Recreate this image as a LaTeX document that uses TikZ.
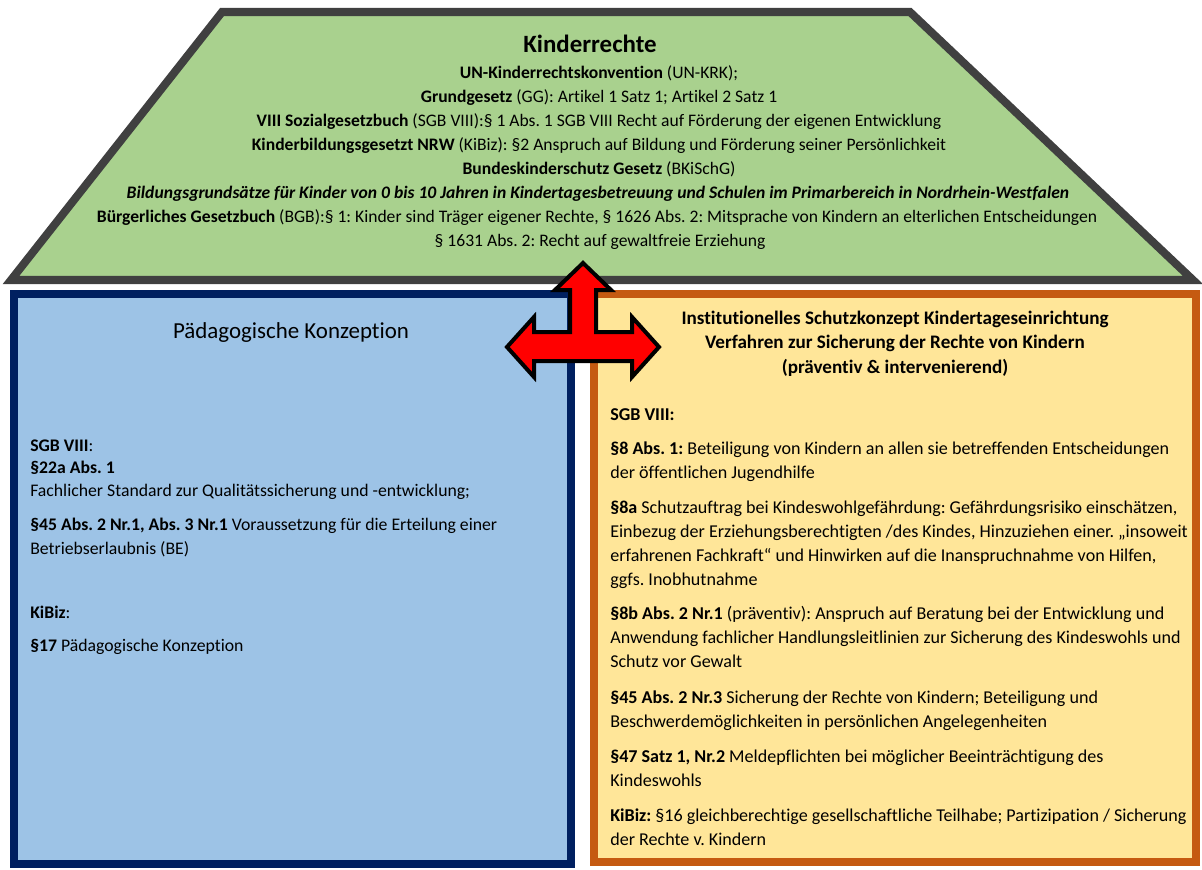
\documentclass[tikz,border=0pt]{standalone}
\usepackage{fontspec}
\setmainfont{Carlito}[Ligatures=NoCommon]
\usetikzlibrary{positioning}
\definecolor{roofbg}{HTML}{A9D18E}
\definecolor{roofborder}{HTML}{404040}
\definecolor{konzbg}{HTML}{9DC3E6}
\definecolor{konzborder}{HTML}{002060}
\definecolor{schutzbg}{HTML}{FFE699}
\definecolor{schutzborder}{HTML}{C55A11}
\definecolor{arrowred}{HTML}{FF0000}
\frenchspacing

\begin{document}
\begin{tikzpicture}[
    x=0.025cm, y=-0.025cm,
    every node/.style={font=\fontsize{12.6}{17}\selectfont, inner sep=0pt},
    box/.style={draw, rectangle, line width=5.7pt},
    cline/.style={anchor=base, font=\fontsize{12.5}{17}\selectfont},
    lline/.style={anchor=base west},
    rline/.style={anchor=base west, font=\fontsize{12.85}{17}\selectfont},
    headline/.style={anchor=base, font=\fontsize{13.6}{17}\selectfont\bfseries},
]

\useasboundingbox (0,0) rectangle (1202,869);

% Roof: Kinderrechte
\draw[fill=roofbg, draw=roofborder, line width=5.7pt, miter limit=20]
    (222,12) -- (910,12) -- (1193,280) -- (11,280) -- cycle;

\node[anchor=base, font=\fontsize{17.7}{20}\selectfont\bfseries] (rechte) at (590,52) {Kinderrechte};
\node[cline] (rechte1) at (599,78) {\textbf{UN-Kinderrechtskonvention} (UN-KRK);};
\node[cline] (rechte2) at (599,102) {\textbf{Grundgesetz} (GG): Artikel 1 Satz 1; Artikel 2 Satz 1};
\node[cline] (rechte3) at (599,126) {\textbf{VIII Sozialgesetzbuch} (SGB VIII):§ 1 Abs. 1 SGB VIII Recht auf Förderung der eigenen Entwicklung};
\node[cline] (rechte4) at (599,150) {\textbf{Kinderbildungsgesetzt NRW} (KiBiz): §2 Anspruch auf Bildung und Förderung seiner Persönlichkeit};
\node[cline] (rechte5) at (599,174) {\textbf{Bundeskinderschutz Gesetz} (BKiSchG)};
\node[cline] (rechte6) at (598,198) {\textbf{\textit{Bildungsgrundsätze für Kinder von 0 bis 10 Jahren in Kindertagesbetreuung und Schulen im Primarbereich in Nordrhein-Westfalen}}};
\node[cline] (rechte7) at (597,222) {\textbf{Bürgerliches Gesetzbuch} (BGB):§ 1: Kinder sind Träger eigener Rechte, § 1626 Abs. 2: Mitsprache von Kindern an elterlichen Entscheidungen};
\node[cline] (rechte8) at (600,246) {§ 1631 Abs. 2: Recht auf gewaltfreie Erziehung};

% Left box: Paedagogische Konzeption
\node[box, fill=konzbg, draw=konzborder, minimum width=13.925cm, minimum height=14.25cm]
    (konz) at (292.5,579) {};
\node[anchor=base, font=\fontsize{16.3}{20}\selectfont] (konztitle) at (291,338) {Pädagogische Konzeption};

\node[lline] (konz1) at (30,451) {\textbf{SGB VIII}:};
\node[lline] (konz2) at (30,473) {\textbf{§22a Abs. 1}};
\node[lline] (konz3) at (30,496) {Fachlicher Standard zur Qualitätssicherung und -entwicklung;};
\node[lline] (konz4) at (30,530) {\textbf{§45 Abs. 2 Nr.1, Abs. 3 Nr.1} Voraussetzung für die Erteilung einer};
\node[lline] (konz5) at (30,554) {Betriebserlaubnis (BE)};
\node[lline] (konz6) at (30,618) {\textbf{KiBiz}:};
\node[lline] (konz7) at (30,651) {\textbf{§17} Pädagogische Konzeption};

% Right box: Schutzkonzept
\node[box, fill=schutzbg, draw=schutzborder, minimum width=15.05cm, minimum height=14.2cm]
    (schutz) at (895,578) {};
\node[headline] (schutztitle1) at (895,324) {Institutionelles Schutzkonzept Kindertageseinrichtung};
\node[headline] (schutztitle2) at (895,348) {Verfahren zur Sicherung der Rechte von Kindern};
\node[headline] (schutztitle3) at (895,373) {(präventiv \& intervenierend)};

\node[rline] (schutz1) at (610,420) {\textbf{SGB VIII:}};
\node[rline] (schutz2) at (610,454) {\textbf{§8 Abs. 1:} Beteiligung von Kindern an allen sie betreffenden Entscheidungen};
\node[rline] (schutz3) at (610,478) {der öffentlichen Jugendhilfe};
\node[rline] (schutz4) at (610,513) {\textbf{§8a} Schutzauftrag bei Kindeswohlgefährdung: Gefährdungsrisiko einschätzen,};
\node[rline] (schutz5) at (610,537) {Einbezug der Erziehungsberechtigten /des Kindes, Hinzuziehen einer. „insoweit};
\node[rline] (schutz6) at (610,561) {erfahrenen Fachkraft“ und Hinwirken auf die Inanspruchnahme von Hilfen,};
\node[rline] (schutz7) at (610,585) {ggfs. Inobhutnahme};
\node[rline] (schutz8) at (610,619) {\textbf{§8b Abs. 2 Nr.1} (präventiv): Anspruch auf Beratung bei der Entwicklung und};
\node[rline] (schutz9) at (610,643) {Anwendung fachlicher Handlungsleitlinien zur Sicherung des Kindeswohls und};
\node[rline] (schutz10) at (610,667) {Schutz vor Gewalt};
\node[rline] (schutz11) at (610,703) {\textbf{§45 Abs. 2 Nr.3} Sicherung der Rechte von Kindern; Beteiligung und};
\node[rline] (schutz12) at (610,727) {Beschwerdemöglichkeiten in persönlichen Angelegenheiten};
\node[rline] (schutz13) at (610,762) {\textbf{§47 Satz 1, Nr.2} Meldepflichten bei möglicher Beeinträchtigung des};
\node[rline] (schutz14) at (610,786) {Kindeswohls};
\node[rline] (schutz15) at (610,821) {\textbf{KiBiz:} §16 gleichberechtige gesellschaftliche Teilhabe; Partizipation / Sicherung};
\node[rline] (schutz16) at (610,845) {der Rechte v. Kindern};

% Three-way arrow between the boxes
\draw[fill=arrowred, draw=black, line width=2.85pt, miter limit=10]
    (583,263) -- (611,290) -- (596,290) -- (596,332) -- (632,332) -- (632,317)
    -- (659,347) -- (632,377) -- (632,361) -- (534,361) -- (534,377)
    -- (507,347) -- (534,317) -- (534,332) -- (570,332) -- (570,290)
    -- (555,290) -- cycle;

\end{tikzpicture}
\end{document}
